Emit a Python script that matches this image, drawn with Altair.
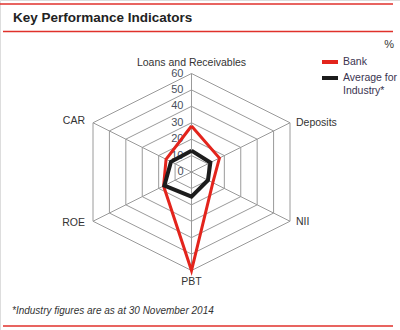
import altair as alt
import pandas as pd

# ---- data ----
axes_names = ["Loans and Receivables", "Deposits", "NII", "PBT", "ROE", "CAR"]
bank = [28, 17, 13, 60, 17, 15.5]
industry = [13, 11.5, 10, 15, 16.5, 12.5]
series_names = ["Bank", "Average for Industry*"]
series_colors = ["#e3241c", "#1c1c1c"]
ring_values = [10, 20, 30, 40, 50, 60]
tick_labels = [0, 10, 20, 30, 40, 50, 60]

# direction of each spoke in the pseudo-3D hexagon (x, y per unit value)
dirs = [(0, 1), (1, 0.5), (1, -0.5), (0, -1), (-1, -0.5), (-1, 0.5)]

FONT = "Liberation Sans"
W, H = 400, 330
CX, CY = 191.5, 172.0
PX = 98.5 / 60.0  # pixels per value unit

xs = alt.Scale(domain=[-CX / PX, (W - CX) / PX], nice=False, zero=False)
ys = alt.Scale(domain=[-(H - CY) / PX, CY / PX], nice=False, zero=False)

# rings
ring_rows = []
for r in ring_values:
    for k in range(7):
        dx, dy = dirs[k % 6]
        ring_rows.append({"ring": r, "o": k, "x": dx * r, "y": dy * r})
ring_df = pd.DataFrame(ring_rows)

spoke_df = pd.DataFrame([
    {"x0": 0, "y0": 0, "x1": dx * 60, "y1": dy * 60} for dx, dy in dirs
])

ser_rows = []
for name, vals in zip(series_names, [bank, industry]):
    for k in range(7):
        dx, dy = dirs[k % 6]
        v = vals[k % 6]
        ser_rows.append({"series": name, "o": k, "x": dx * v, "y": dy * v})
ser_df = pd.DataFrame(ser_rows)

tick_df = pd.DataFrame({"x": [0] * len(tick_labels), "y": tick_labels,
                        "t": [str(t) for t in tick_labels]})

X = lambda f: alt.X(f, type="quantitative", scale=xs, axis=None)
Y = lambda f: alt.Y(f, type="quantitative", scale=ys, axis=None)

rings = alt.Chart(ring_df).mark_line(color="#9a9a9a", strokeWidth=1).encode(
    x=X("x"), y=Y("y"), detail="ring:N", order="o:Q")
spokes = alt.Chart(spoke_df).mark_rule(color="#9a9a9a", strokeWidth=1).encode(
    x=X("x0"), y=Y("y0"), x2="x1:Q", y2="y1:Q")

bank_line = alt.Chart(ser_df[ser_df.series == "Bank"]).mark_line(
    color=series_colors[0], strokeWidth=3, strokeJoin="miter", strokeMiterLimit=20).encode(
    x=X("x"), y=Y("y"), order="o:Q")
ind_line = alt.Chart(ser_df[ser_df.series != "Bank"]).mark_line(
    color=series_colors[1], strokeWidth=4, strokeJoin="miter").encode(
    x=X("x"), y=Y("y"), order="o:Q")

ticks = alt.Chart(tick_df).mark_text(
    font=FONT, fontSize=11, color="#4a4f5c", align="right", baseline="middle", dx=-8).encode(
    x=X("x"), y=Y("y"), text="t:N")

# axis labels
lab_specs = [  # align, dx, dy
    ("center", 0, -11),
    ("left", 6, 0),
    ("left", 6, 1),
    ("center", 0, 11),
    ("right", -8, 2),
    ("right", -8, -2),
]
lab_layers = []
for name, (dx, dy), (al, ox, oy) in zip(axes_names, dirs, lab_specs):
    d = pd.DataFrame({"x": [dx * 60], "y": [dy * 60], "t": [name]})
    lab_layers.append(alt.Chart(d).mark_text(
        font=FONT, fontSize=10.5, color="#333333", align=al, baseline="middle", dx=ox, dy=oy
    ).encode(x=X("x"), y=Y("y"), text="t:N"))

# decorations
def txt(s, x, y, **kw):
    return alt.Chart(pd.DataFrame({"t": [s]})).mark_text(font=FONT, **kw).encode(
        x=alt.value(x), y=alt.value(y), text="t:N")

def hline(x1, x2, y, color, w):
    return alt.Chart(pd.DataFrame({"a": [0]})).mark_rule(color=color, strokeWidth=w).encode(
        x=alt.value(x1), x2=alt.value(x2), y=alt.value(y))

deco = [
    hline(0, 393, 4, "#e0312b", 1.5),
    hline(3, 393, 31.5, "#e0312b", 1.5),
    hline(3, 393, 326, "#e0312b", 1.5),
    txt("Key Performance Indicators", 13, 18, fontSize=13.5, fontWeight="bold",
        color="#222222", align="left", baseline="middle"),
    txt("%", 394, 45, fontSize=11, color="#333333", align="right", baseline="middle"),
    hline(322, 338, 62, series_colors[0], 4),
    hline(322, 338, 78, series_colors[1], 4),
    txt(series_names[0], 343, 62, fontSize=10.5, color="#3a3450", align="left", baseline="middle"),
    txt("Average for", 343, 78, fontSize=10.5, color="#3a3450", align="left", baseline="middle"),
    txt("Industry*", 343, 91, fontSize=10.5, color="#3a3450", align="left", baseline="middle"),
    txt("*Industry figures are as at 30 November 2014", 12, 311, fontSize=10,
        fontStyle="italic", color="#333333", align="left", baseline="middle"),
]

chart = alt.layer(rings, spokes, ticks, *lab_layers, bank_line, ind_line, *deco).properties(
    width=W, height=H, autosize=alt.AutoSizeParams(type="none"), padding=0
).configure_view(stroke=None).configure(background="white")

chart.save("out.html", embed_options={"renderer": "svg", "actions": False})
